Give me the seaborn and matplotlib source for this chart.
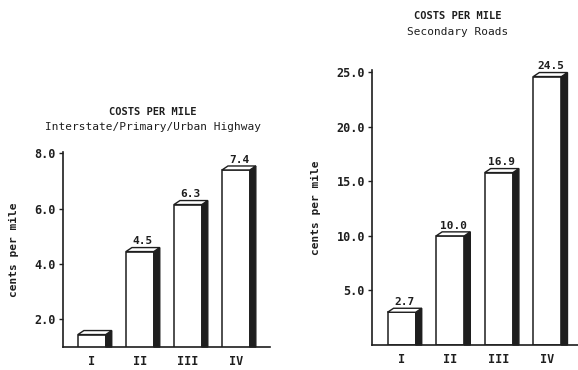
import matplotlib
matplotlib.use('Agg')
import matplotlib.pyplot as plt
import seaborn as sns
import numpy as np
from matplotlib.patches import Polygon

# data
classes = ['I', 'II', 'III', 'IV']
interstate_height = [1.45, 4.45, 6.15, 7.4]      # drawn bar heights
interstate_labels = ['', '4.5', '6.3', '7.4']    # printed values
secondary_height = [3.0, 10.0, 15.8, 24.6]
secondary_labels = ['2.7', '10.0', '16.9', '24.5']

interstate_ticks = [2.0, 4.0, 6.0, 8.0]
secondary_ticks = [5.0, 10.0, 15.0, 20.0, 25.0]

ink = '#1e1e1e'

sns.set_style('white')
plt.rcParams['font.family'] = ['DejaVu Sans Mono']
plt.rcParams['font.weight'] = 'bold'

W, H = 578, 370
fig = plt.figure(figsize=(W / 100, H / 100), dpi=100)


def px_axes(left, top, right, bottom):
    return fig.add_axes([left / W, 1 - bottom / H, (right - left) / W, (bottom - top) / H])


def bars_3d(ax, heights, labels, ticks, ylim, xlim, dx_px=6, dy_px=4):
    sns.barplot(x=classes, y=heights, color='white', edgecolor=ink,
                linewidth=1.1, width=0.58, saturation=1, ax=ax)
    ax.set_xlim(*xlim)
    ax.set_ylim(*ylim)
    # pixel offset of the fake depth, in data units
    bbox = ax.get_position()
    dx = dx_px / (bbox.width * W) * (xlim[1] - xlim[0])
    dy = dy_px / (bbox.height * H) * (ylim[1] - ylim[0])
    for p, lab in zip(ax.patches, labels):
        x0 = p.get_x()
        x1 = x0 + p.get_width()
        y0 = ylim[0]
        top = p.get_height()
        side = Polygon([(x1, y0), (x1, top), (x1 + dx, top + dy), (x1 + dx, y0)],
                       closed=True, facecolor=ink, edgecolor=ink, lw=1.0, clip_on=False)
        lid = Polygon([(x0, top), (x0 + dx, top + dy), (x1 + dx, top + dy), (x1, top)],
                      closed=True, facecolor='white', edgecolor=ink, lw=1.0, clip_on=False)
        ax.add_patch(side)
        ax.add_patch(lid)
        if lab:
            ax.text((x0 + x1 + dx) / 2, top + dy * 1.3, lab, ha='center', va='bottom',
                    fontsize=8, color=ink)
    ax.set_yticks(ticks)
    ax.set_yticklabels([f'{t:.1f}' for t in ticks], fontsize=8.5, color=ink)
    ax.tick_params(axis='y', length=3, width=1, color=ink, pad=2, left=True)
    ax.tick_params(axis='x', length=0, pad=6, labelsize=8.5, labelcolor=ink)
    for s in ['top', 'right']:
        ax.spines[s].set_visible(False)
    for s in ['left', 'bottom']:
        ax.spines[s].set_color(ink)
        ax.spines[s].set_linewidth(1.2)
    ax.set_xlabel('')
    ax.set_ylabel('cents per mile', fontsize=8, color=ink, labelpad=11, fontweight='bold')


ax1 = px_axes(63, 152, 270, 347)
bars_3d(ax1, interstate_height, interstate_labels, interstate_ticks,
        ylim=(1.0, 8.05), xlim=(-0.6, 3.71))

ax2 = px_axes(372, 70, 578, 345)
bars_3d(ax2, secondary_height, secondary_labels, secondary_ticks,
        ylim=(0.0, 25.2), xlim=(-0.61, 3.63))

fig.text(153 / W, 1 - 112 / H, 'COSTS PER MILE', ha='center', va='center', fontsize=7.5, color=ink)
fig.text(153 / W, 1 - 127 / H, 'Interstate/Primary/Urban Highway', ha='center', va='center',
         fontsize=8, color=ink, fontweight='normal')
fig.text(458 / W, 1 - 16 / H, 'COSTS PER MILE', ha='center', va='center', fontsize=7.5, color=ink)
fig.text(458 / W, 1 - 32 / H, 'Secondary Roads', ha='center', va='center',
         fontsize=8, color=ink, fontweight='normal')

fig.savefig('out.png', dpi=100, facecolor='white')
